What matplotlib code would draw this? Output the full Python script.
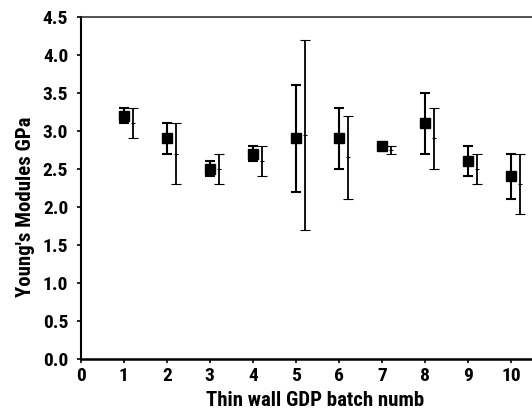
import numpy as np
import matplotlib.pyplot as plt

# batch numbers and Young's modulus readings (GPa)
batch = np.arange(1, 11)
mod_a = [3.2, 2.9, 2.5, 2.7, 2.9, 2.9, 2.8, 3.1, 2.6, 2.4]
err_a = [0.1, 0.2, 0.1, 0.1, 0.7, 0.4, 0.03, 0.4, 0.2, 0.3]
mod_b = [3.1, 2.7, 2.5, 2.6, 2.95, 2.65, 2.75, 2.9, 2.5, 2.3]
err_b = [0.2, 0.4, 0.2, 0.2, 1.25, 0.55, 0.05, 0.4, 0.2, 0.4]
offset = 0.22

plt.rcParams["font.family"] = ["Roboto Condensed", "Liberation Sans", "DejaVu Sans"]
plt.rcParams["font.weight"] = "bold"

fig = plt.figure(figsize=(5.32, 4.13), dpi=100)
W, H = 532, 413
x0, x1 = 80.7, 80.7 + 11 * 43.03
y_top, y_bot = 16.7, 359
ax = fig.add_axes([x0 / W, (H - y_bot) / H, (x1 - x0) / W, (y_bot - y_top) / H])

ax.errorbar(batch, mod_a, yerr=err_a, fmt="s", color="black", ms=6.5,
            elinewidth=1.5, capsize=3.5, capthick=1.5)
ax.errorbar(batch + offset, mod_b, yerr=err_b, fmt="_", color="black", ms=3,
            mew=0.8, elinewidth=1.3, capsize=3.5, capthick=1.3)

ax.set_xlim(0, 11)
ax.set_ylim(0, 4.5)
ax.set_xticks(range(0, 11))
ax.set_yticks(np.arange(0, 4.51, 0.5))
ax.set_yticklabels([f"{v:.1f}" for v in np.arange(0, 4.51, 0.5)])
ax.tick_params(direction="out", length=3, width=1.2, labelsize=14)
ax.tick_params(axis="x", pad=3)
ax.tick_params(axis="y", pad=6)

ax.spines["right"].set_visible(False)
ax.spines["bottom"].set_linewidth(1.8)
ax.spines["left"].set_linewidth(1.5)
ax.spines["top"].set_linewidth(1.1)
ax.spines["top"].set_color("#222222")

fig.text(206 / W, 12 / H, "Thin wall GDP batch numb", ha="left", va="center",
         fontsize=15, fontweight="bold")
fig.text(26 / W, 206 / H, "Young's Modules GPa", rotation=90, ha="center",
         va="center", fontsize=15, fontweight="bold")

fig.savefig("out.png", dpi=100)
